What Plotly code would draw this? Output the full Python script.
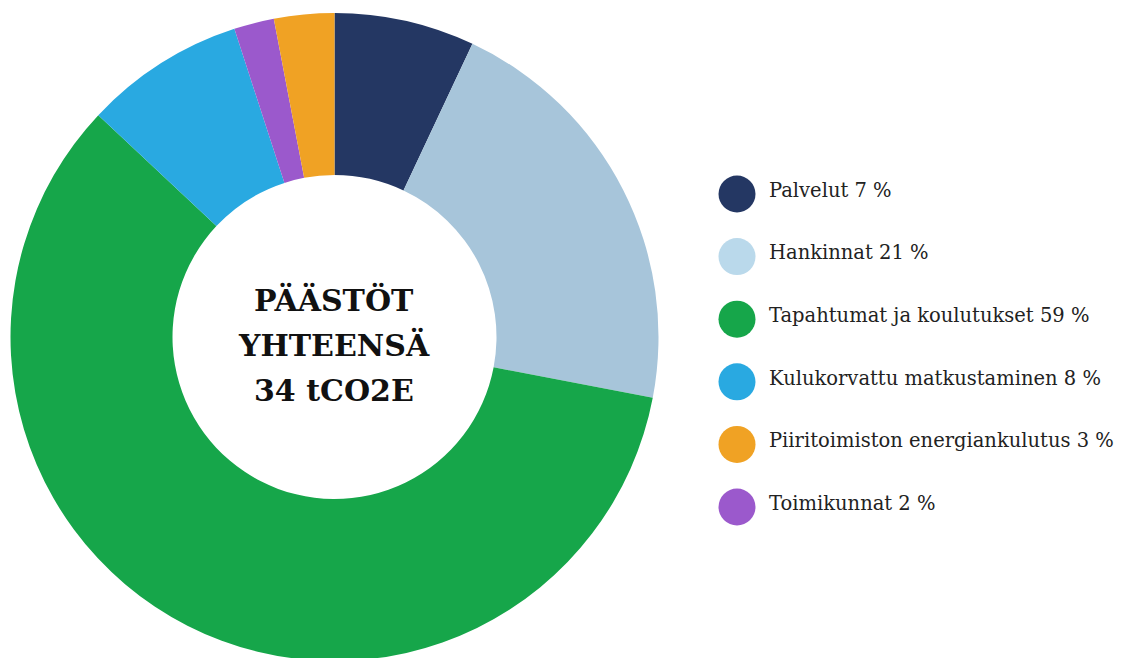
import plotly.graph_objects as go

# Slice order (clockwise from top)
slice_labels = ["Palvelut", "Hankinnat", "Tapahtumat ja koulutukset",
                "Kulukorvattu matkustaminen", "Toimikunnat", "Piiritoimiston energiankulutus"]
slice_values = [7, 21, 59, 8, 2, 3]
slice_colors = ["#243763", "#a7c5da", "#16a64a", "#29a9e1", "#9b59cc", "#f0a224"]

# Legend order
legend_labels = ["Palvelut 7 %", "Hankinnat 21 %", "Tapahtumat ja koulutukset 59 %",
                 "Kulukorvattu matkustaminen 8 %", "Piiritoimiston energiankulutus 3 %",
                 "Toimikunnat 2 %"]
legend_colors = ["#243763", "#bad9eb", "#16a64a", "#29a9e1", "#f0a224", "#9b59cc"]

center_lines = ["PÄÄSTÖT", "YHTEENSÄ", "34 tCO2E"]

W, H = 1125, 658
OFF = 8  # browser body margin

fig = go.Figure()
fig.add_trace(go.Pie(
    labels=slice_labels, values=slice_values, sort=False, direction="clockwise",
    rotation=0, hole=0.5, textinfo="none", hoverinfo="label+percent",
    marker=dict(colors=slice_colors, line=dict(width=0)),
    domain=dict(x=[(10.5 - OFF) / W, (658.5 - OFF) / W],
                y=[1 - (661 - OFF) / H, 1 - (13 - OFF) / H]),
    showlegend=False,
))

n = len(legend_labels)
ys = [194 + 62.6 * i for i in range(n)]
fig.add_trace(go.Scatter(
    x=[737] * n, y=ys, mode="markers",
    marker=dict(size=37, color=legend_colors, line=dict(width=0)),
    showlegend=False, hoverinfo="skip", cliponaxis=False,
))
fig.add_trace(go.Scatter(
    x=[769] * n, y=[v - 2 for v in ys], mode="text",
    text=legend_labels, textposition="middle right",
    textfont=dict(family="DejaVu Serif", size=19.5, color="#222222"),
    showlegend=False, hoverinfo="skip", cliponaxis=False,
))

for i, line in enumerate(center_lines):
    fig.add_annotation(
        x=334, y=300 + 45 * i, xref="x", yref="y", text="<b>" + line + "</b>",
        showarrow=False, font=dict(family="DejaVu Serif", size=30, color="#111111"),
        xanchor="center", yanchor="middle",
    )

fig.update_layout(
    width=W, height=H, margin=dict(l=0, r=0, t=0, b=0),
    paper_bgcolor="white", plot_bgcolor="rgba(0,0,0,0)",
    xaxis=dict(range=[OFF, W + OFF], visible=False, fixedrange=True),
    yaxis=dict(range=[H + OFF, OFF], visible=False, fixedrange=True),
    showlegend=False,
)
fig.write_html("out.html")
